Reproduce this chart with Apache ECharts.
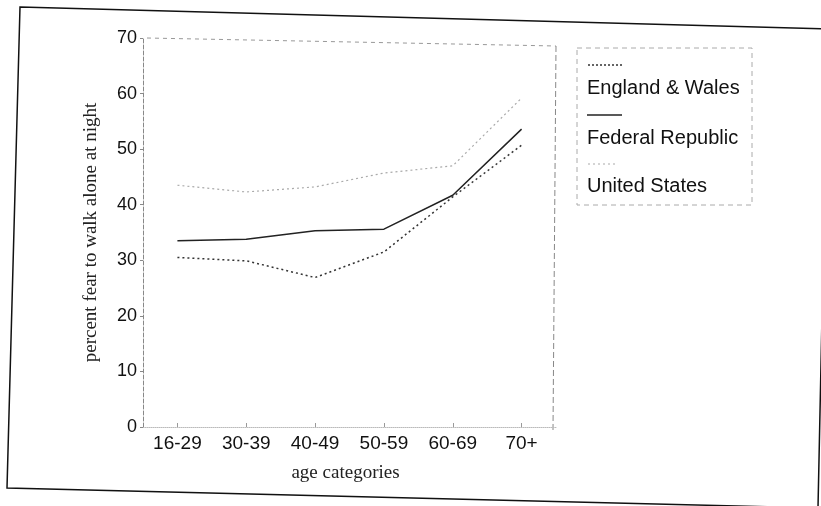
<!DOCTYPE html>
<html>
<head>
<meta charset="utf-8">
<script src="https://cdn.jsdelivr.net/npm/echarts@6/dist/echarts.min.js"></script>
<style>
html,body{margin:0;padding:0;background:#fff;}
#chart{width:821px;height:506px;}
</style>
</head>
<body>
<div id="chart"></div>
<script>
var categories = ['16-29', '30-39', '40-49', '50-59', '60-69', '70+'];
var englandWales = [30.5, 29.9, 26.9, 31.5, 41.4, 50.7];
var federalRepublic = [33.5, 33.8, 35.3, 35.6, 41.7, 53.6];
var unitedStates = [43.5, 42.3, 43.2, 45.7, 47.0, 59.2];
var yTicks = [0, 10, 20, 30, 40, 50, 60, 70];
var seriesNames = ['England & Wales', 'Federal Republic', 'United States'];

var chart = echarts.init(document.getElementById('chart'));
var sans = 'Liberation Sans, Arial, sans-serif';
var serif = 'Liberation Serif, Times New Roman, serif';

chart.setOption({
  animation: false,
  backgroundColor: '#fff',
  grid: { left: 143, right: 265, top: 38, bottom: 79, show: false },
  xAxis: {
    type: 'category',
    data: categories,
    boundaryGap: true,
    name: 'age categories',
    nameLocation: 'middle',
    nameGap: 37,
    nameTextStyle: { fontFamily: serif, fontSize: 19, color: '#222', padding: [0, 8, 0, 0] },
    axisLine: { show: true, lineStyle: { color: '#bbb', type: 'dotted', width: 1 } },
    axisTick: { show: true, alignWithLabel: true, length: 4, inside: true, lineStyle: { color: '#999' } },
    axisLabel: { fontFamily: sans, fontSize: 19, color: '#111', margin: 7 },
    splitLine: { show: false }
  },
  yAxis: {
    type: 'value',
    min: yTicks[0],
    max: yTicks[yTicks.length - 1],
    interval: 10,
    name: 'percent fear to walk alone at night',
    nameLocation: 'middle',
    nameGap: 42,
    nameTextStyle: { fontFamily: serif, fontSize: 19, color: '#222', padding: [0, 0, 0, 0] },
    axisLine: { show: true, lineStyle: { color: '#888', type: 'dashed', width: 1 } },
    axisTick: { show: true, length: 3, lineStyle: { color: '#888' } },
    axisLabel: { fontFamily: sans, fontSize: 18, color: '#111', margin: 6 },
    splitLine: { show: false }
  },
  series: [
    {
      name: seriesNames[0], type: 'line', data: englandWales, symbol: 'none',
      lineStyle: { color: '#333', width: 1.5, type: [2, 3] }
    },
    {
      name: seriesNames[1], type: 'line', data: federalRepublic, symbol: 'none',
      lineStyle: { color: '#222', width: 1.5, type: 'solid' }
    },
    {
      name: seriesNames[2], type: 'line', data: unitedStates, symbol: 'none',
      lineStyle: { color: '#aaa', width: 1.2, type: [2, 3] }
    }
  ],
  graphic: [
    { type: 'polygon', silent: true, shape: { points: [[20, 7], [828, 29], [818, 508], [7, 488]] },
      style: { fill: 'none', stroke: '#111', lineWidth: 1.5 } },
    { type: 'line', silent: true, shape: { x1: 147, y1: 38, x2: 556, y2: 46 },
      style: { stroke: '#999', lineWidth: 1, lineDash: [4, 4] } },
    { type: 'line', silent: true, shape: { x1: 556, y1: 46, x2: 553, y2: 430 },
      style: { stroke: '#888', lineWidth: 1, lineDash: [6, 3] } },
    { type: 'rect', silent: true, shape: { x: 577, y: 48, width: 175, height: 157 },
      style: { fill: 'none', stroke: '#aaa', lineWidth: 1, lineDash: [5, 4] } },
    { type: 'line', silent: true, shape: { x1: 588, y1: 65, x2: 622, y2: 65 },
      style: { stroke: '#333', lineWidth: 1.5, lineDash: [2, 2] } },
    { type: 'text', silent: true, left: 587, top: 78,
      style: { text: seriesNames[0], font: '20px ' + sans, fill: '#111' } },
    { type: 'line', silent: true, shape: { x1: 587, y1: 115, x2: 622, y2: 115 },
      style: { stroke: '#222', lineWidth: 1.5 } },
    { type: 'text', silent: true, left: 587, top: 128,
      style: { text: seriesNames[1], font: '20px ' + sans, fill: '#111' } },
    { type: 'line', silent: true, shape: { x1: 588, y1: 164, x2: 618, y2: 164 },
      style: { stroke: '#aaa', lineWidth: 1.2, lineDash: [2, 3] } },
    { type: 'text', silent: true, left: 587, top: 176,
      style: { text: seriesNames[2], font: '20px ' + sans, fill: '#111' } }
  ]
});
</script>
</body>
</html>
